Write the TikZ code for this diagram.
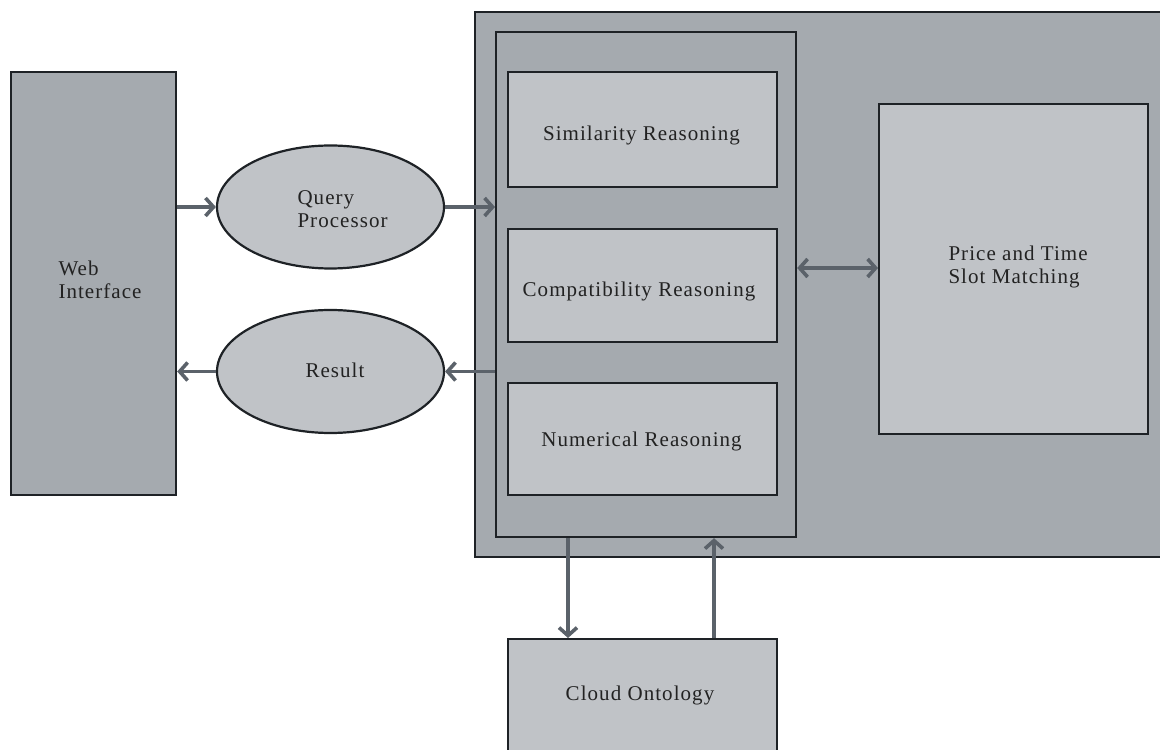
\documentclass[tikz,border=0pt]{standalone}
\usepackage{fontspec}
\setmainfont{Liberation Serif}[LetterSpace=5]
\usetikzlibrary{shapes.geometric,arrows.meta}
\definecolor{darkfill}{HTML}{A5AAAF}
\definecolor{lightfill}{HTML}{C0C3C7}
\definecolor{edge}{HTML}{1E2226}
\definecolor{arrowc}{HTML}{5B626A}
\definecolor{txt}{HTML}{222222}
\tikzset{
  box/.style={draw=edge, line width=2.2pt, fill=lightfill, inner sep=0pt},
  darkbox/.style={draw=edge, line width=2.2pt, fill=darkfill, inner sep=0pt},
  oval/.style={ellipse, draw=edge, line width=2.2pt, fill=lightfill, inner sep=0pt},
  lbl/.style={font=\fontsize{21}{23}\selectfont, text=txt, align=left},
  conn/.style={draw=arrowc, line width=3.8pt, -{Straight Barb[length=8pt,width=18pt,line width=3.6pt]}},
  conn2/.style={draw=arrowc, line width=3.8pt, {Straight Barb[length=8pt,width=18pt,line width=3.6pt]}-{Straight Barb[length=8pt,width=18pt,line width=3.6pt]}}
}
\begin{document}
\begin{tikzpicture}[x=1pt,y=1pt]
\useasboundingbox (0,0) rectangle (1160,750);
\clip (0,0) rectangle (1160,750);
\fill[white] (0,0) rectangle (1160,750);
% outer containers
\node[darkbox, minimum width=686, minimum height=545, anchor=north west] (outer) at (474,739) {};
\node[darkbox, minimum width=300, minimum height=505, anchor=north west] (inner) at (495,719) {};
% boxes
\node[darkbox, minimum width=165, minimum height=423, anchor=north west] (web) at (10,679) {};
\node[lbl, anchor=west] at (55,470) {Web\\Interface};
\node[oval, minimum width=227, minimum height=123] (qp) at (330.5,543) {};
\node[lbl, anchor=west] at (294,541) {Query\\Processor};
\node[oval, minimum width=227, minimum height=123] (res) at (330.5,378.5) {};
\node[lbl] at (335,380) {Result};
\node[box, minimum width=269, minimum height=115, anchor=north west] (sim) at (507,679) {};
\node[lbl] at (641.5,615) {Similarity Reasoning};
\node[box, minimum width=269, minimum height=113, anchor=north west] (comp) at (507,522) {};
\node[lbl] at (639,459) {Compatibility Reasoning};
\node[box, minimum width=269, minimum height=112, anchor=north west] (num) at (507,368) {};
\node[lbl] at (641.5,309) {Numerical Reasoning};
\node[box, minimum width=269, minimum height=330, anchor=north west] (price) at (878,647) {};
\node[lbl, anchor=west] at (945,483) {Price and Time\\Slot Matching};
\node[box, minimum width=269, minimum height=130, anchor=north west] (cloud) at (507,112) {};
\node[lbl] at (640,55) {Cloud Ontology};
% connectors
\draw[conn] (web.east |- qp) -- (qp.west);
\draw[conn] (qp.east) -- (inner.west |- qp);
\draw[conn] (inner.west |- res) -- (res.east);
\draw[conn] (res.west) -- (web.east |- res);
\draw[conn2] (inner.east |- 0,482) -- (price.west |- 0,482);
\coordinate (d1) at (568,0);
\coordinate (d2) at (714,0);
\draw[conn] (inner.south -| d1) -- (cloud.north -| d1);
\draw[conn] (cloud.north -| d2) -- (inner.south -| d2);
\end{tikzpicture}
\end{document}
